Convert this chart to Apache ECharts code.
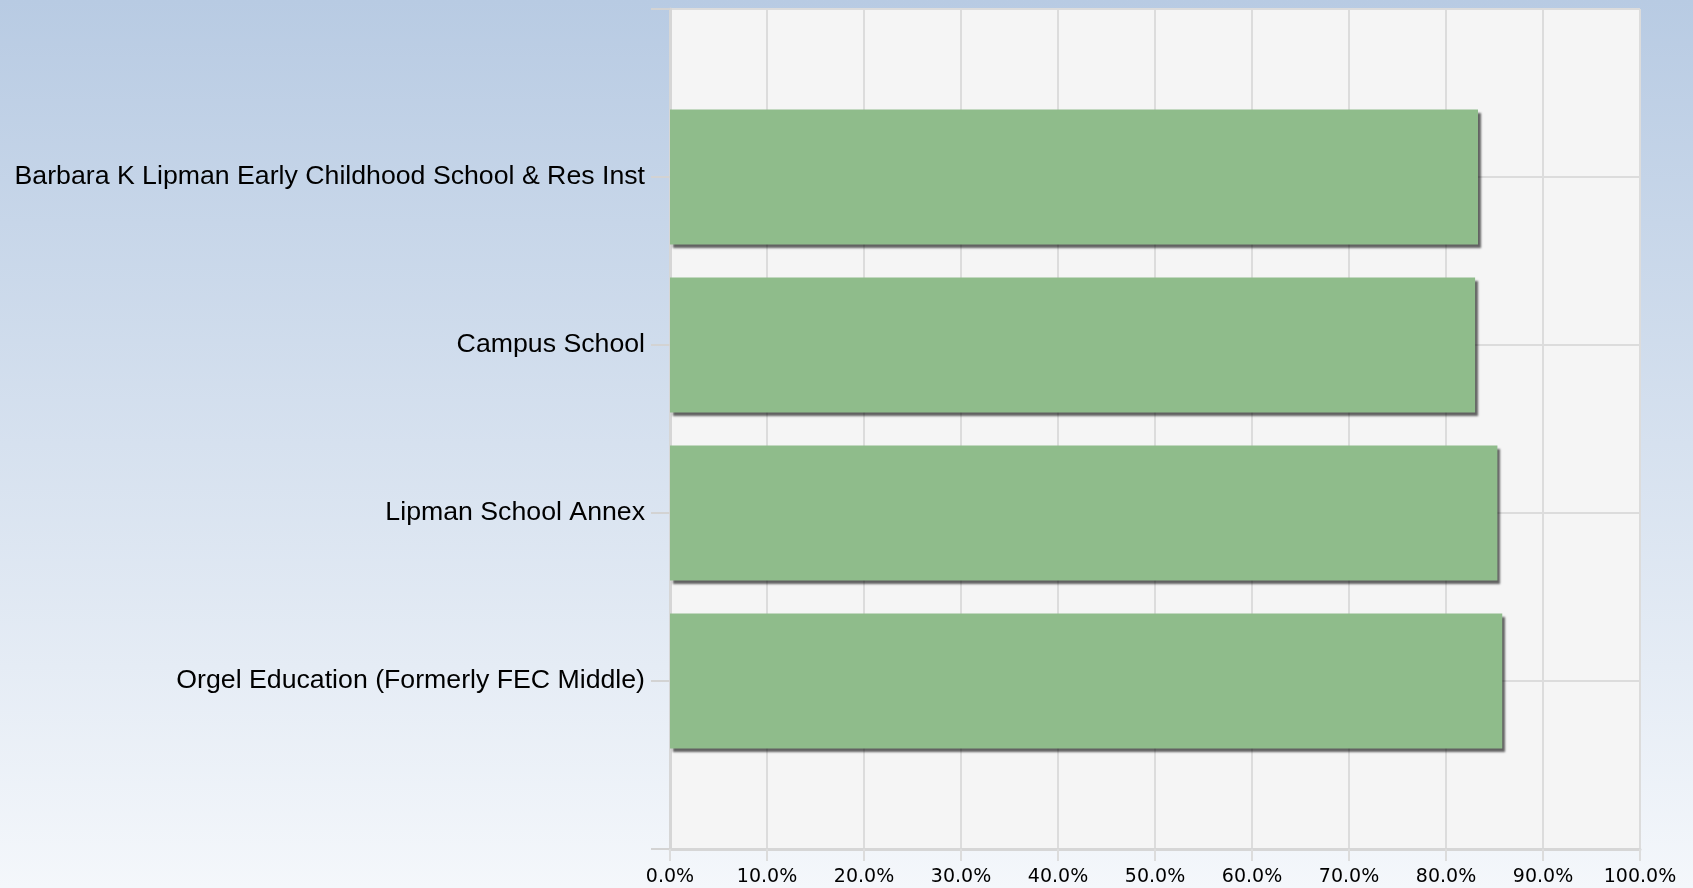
<!DOCTYPE html>
<html>
<head>
<meta charset="utf-8">
<script src="https://cdn.jsdelivr.net/npm/echarts@6/dist/echarts.min.js"></script>
<style>
  html, body { margin: 0; padding: 0; }
  #chart { width: 1693px; height: 888px; }
</style>
</head>
<body>
<div id="chart"></div>
<script>
// schools, top to bottom
const schools = [
    'Barbara K Lipman Early Childhood School & Res Inst',
    'Campus School',
    'Lipman School Annex',
    'Orgel Education (Formerly FEC Middle)'
];
const rates = [0.833, 0.830, 0.853, 0.858];
const xTicks = [0, 0.1, 0.2, 0.3, 0.4, 0.5, 0.6, 0.7, 0.8, 0.9, 1.0];

// empty slots at both ends so the bars sit on the grid lines
const yData = [''].concat(schools, ['']);
const barData = [null].concat(rates, [null]);

const gridColor = '#dcdcdc';

const chart = echarts.init(document.getElementById('chart'));

chart.setOption({
    backgroundColor: {
        type: 'linear', x: 0, y: 0, x2: 0, y2: 1,
        colorStops: [
            { offset: 0, color: '#b8cbe3' },
            { offset: 1, color: '#f4f7fb' }
        ]
    },
    grid: {
        left: 670, right: 53, top: 9, bottom: 39,
        show: true, backgroundColor: '#f5f5f5', borderWidth: 0
    },
    xAxis: {
        type: 'value',
        min: xTicks[0],
        max: xTicks[xTicks.length - 1],
        interval: 0.1,
        axisLine: { show: true, lineStyle: { color: '#d6d6d6', width: 3 } },
        axisTick: { show: true, length: 12, lineStyle: { color: gridColor, width: 2 } },
        splitLine: { show: true, lineStyle: { color: gridColor, width: 2 } },
        axisLabel: {
            margin: 19,
            fontFamily: 'DejaVu Sans',
            fontSize: 19,
            color: '#000',
            formatter: v => (v * 100).toFixed(1) + '%'
        }
    },
    yAxis: {
        type: 'category',
        data: yData,
        inverse: true,
        boundaryGap: false,
        axisLine: { show: true, lineStyle: { color: '#d6d6d6', width: 3 } },
        axisTick: { show: true, length: 19, lineStyle: { color: '#d3d3d3', width: 2 } },
        splitLine: { show: true, lineStyle: { color: gridColor, width: 2 } },
        axisLabel: {
            margin: 25,
            fontFamily: 'Liberation Sans',
            fontSize: 26.7,
            color: '#000'
        }
    },
    series: [{
        type: 'bar',
        data: barData,
        barWidth: 135,
        itemStyle: {
            color: '#8fbc8b',
            shadowColor: 'rgba(0,0,0,0.6)',
            shadowBlur: 2,
            shadowOffsetX: 3,
            shadowOffsetY: 3
        },
        silent: true
    }]
});
</script>
</body>
</html>
